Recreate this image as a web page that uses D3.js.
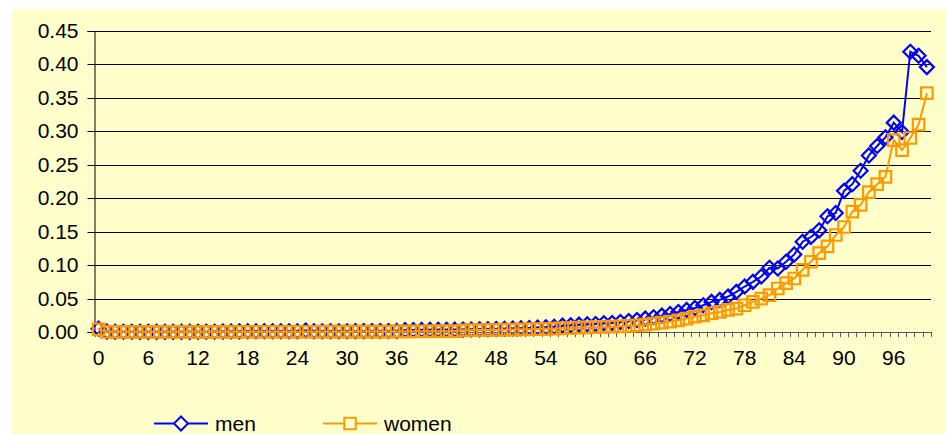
<!DOCTYPE html>
<html>
<head>
<meta charset="utf-8">
<script src="https://cdn.jsdelivr.net/npm/d3@7"></script>
<style>
  html, body { margin: 0; padding: 0; background: #ffffff; }
  svg { display: block; }
  text { font-family: "Liberation Sans", Arial, sans-serif; fill: #000; }
</style>
</head>
<body>
<svg id="chart" width="946" height="434"></svg>
<script>
// Ages 0..100
const ages = d3.range(0, 101);

// Probability of death within the year, by age
const men = [
  0.0050, 0.0006, 0.0004, 0.0003, 0.0003, 0.0002, 0.0002, 0.0002, 0.0002, 0.0002,
  0.0002, 0.0002, 0.0003, 0.0003, 0.0004, 0.0006, 0.0008, 0.0010, 0.0011, 0.0011,
  0.0011, 0.0012, 0.0012, 0.0012, 0.0012, 0.0022, 0.0012, 0.0012, 0.0012, 0.0012,
  0.0012, 0.0013, 0.0013, 0.0014, 0.0014, 0.0015, 0.0016, 0.0028, 0.0030, 0.0031,
  0.0032, 0.0033, 0.0034, 0.0035, 0.0036, 0.0038, 0.0040, 0.0042, 0.0045, 0.0048,
  0.0052, 0.0056, 0.0060, 0.0065, 0.0070, 0.0078, 0.0095, 0.0100, 0.0110, 0.0115,
  0.0120, 0.0130, 0.0135, 0.0150, 0.0165, 0.0180, 0.0200, 0.0220, 0.0245, 0.0270,
  0.0300, 0.0330, 0.0360, 0.0400, 0.0450, 0.0480, 0.0530, 0.0600, 0.0680, 0.0750,
  0.0830, 0.0960, 0.0950, 0.1050, 0.1160, 0.1350, 0.1420, 0.1520, 0.1730, 0.1780,
  0.2110, 0.2210, 0.2410, 0.2640, 0.2780, 0.2910, 0.3130, 0.2990, 0.4190, 0.4130,
  0.3960
];

const women = [
  0.0040, 0.0003, 0.0002, 0.0002, 0.0002, 0.0002, 0.0002, 0.0002, 0.0002, 0.0002,
  0.0002, 0.0002, 0.0002, 0.0002, 0.0002, 0.0003, 0.0003, 0.0004, 0.0004, 0.0004,
  0.0004, 0.0004, 0.0004, 0.0004, 0.0004, 0.0004, 0.0004, 0.0005, 0.0005, 0.0005,
  0.0005, 0.0006, 0.0006, 0.0006, 0.0007, 0.0007, 0.0008, 0.0009, 0.0010, 0.0011,
  0.0012, 0.0013, 0.0013, 0.0014, 0.0025, 0.0027, 0.0029, 0.0031, 0.0033, 0.0035,
  0.0037, 0.0040, 0.0042, 0.0045, 0.0048, 0.0050, 0.0055, 0.0060, 0.0064, 0.0068,
  0.0072, 0.0076, 0.0080, 0.0085, 0.0092, 0.0100, 0.0110, 0.0125, 0.0140, 0.0155,
  0.0175, 0.0200, 0.0230, 0.0250, 0.0280, 0.0300, 0.0330, 0.0350, 0.0400, 0.0450,
  0.0500, 0.0550, 0.0650, 0.0730, 0.0800, 0.0930, 0.1050, 0.1180, 0.1280, 0.1450,
  0.1570, 0.1800, 0.1900, 0.2090, 0.2210, 0.2320, 0.2870, 0.2720, 0.2900, 0.3100,
  0.3570
];

const yTicks = [0, 0.05, 0.10, 0.15, 0.20, 0.25, 0.30, 0.35, 0.40, 0.45];
const xLabels = d3.range(0, 97, 6);

const seriesNames = ["men", "women"];
const seriesColors = ["#0000ff", "#ff9900"];

const FONT_SIZE = 21;

const svg = d3.select("#chart");

// chart area background
svg.append("rect")
  .attr("x", 12).attr("y", 9)
  .attr("width", 934).attr("height", 425)
  .attr("fill", "#ffffcc");

const plot = { left: 94.5, right: 931, top: 31, bottom: 332 };

const x = d3.scaleBand().domain(ages).range([plot.left, plot.right]).padding(0);
const cx = a => x(a) + x.bandwidth() / 2;
const y = d3.scaleLinear().domain([0, 0.45]).range([plot.bottom, plot.top]);

// horizontal gridlines
svg.append("g")
  .selectAll("line")
  .data(yTicks.filter(v => v > 0))
  .join("line")
  .attr("x1", plot.left).attr("x2", plot.right)
  .attr("y1", d => Math.round(y(d)) + 0.5).attr("y2", d => Math.round(y(d)) + 0.5)
  .attr("stroke", "#000").attr("stroke-width", 1);

// y axis
const yAxis = svg.append("g")
  .attr("transform", `translate(${plot.left},0)`)
  .call(d3.axisLeft(y).tickValues(yTicks).tickFormat(d3.format(".2f")).tickSize(7).tickPadding(9));
yAxis.select(".domain").attr("stroke", "#000");
yAxis.selectAll(".tick line").attr("stroke", "#000");
yAxis.selectAll(".tick").attr("transform", d => `translate(0,${Math.round(y(d)) + 0.5})`);
yAxis.selectAll("text")
  .attr("font-family", "Liberation Sans, Arial, sans-serif")
  .attr("font-size", FONT_SIZE)
  .attr("fill", "#000");

// x axis: tick marks on category boundaries, labels every 6 years
const xg = svg.append("g");
const bounds = ages.map(a => x(a)).concat([x(100) + x.bandwidth()]);
xg.append("line")
  .attr("x1", plot.left).attr("x2", plot.right)
  .attr("y1", plot.bottom + 0.5).attr("y2", plot.bottom + 0.5)
  .attr("stroke", "#555");
xg.selectAll("line.tk")
  .data(bounds)
  .join("line")
  .attr("class", "tk")
  .attr("x1", d => Math.round(d) + 0.5).attr("x2", d => Math.round(d) + 0.5)
  .attr("y1", plot.bottom).attr("y2", plot.bottom + 5)
  .attr("stroke", "#555");
xg.selectAll("text")
  .data(xLabels)
  .join("text")
  .attr("x", d => cx(d))
  .attr("y", 365)
  .attr("text-anchor", "middle")
  .attr("font-size", FONT_SIZE)
  .text(d => d);

// series
const line = d3.line().x((d, i) => cx(ages[i])).y(d => y(d));
const diamond = r => `M0,${-r}L${r},0L0,${r}L${-r},0Z`;
const square = s => `M${-s / 2},${-s / 2}h${s}v${s}h${-s}Z`;
const markers = [diamond(7), square(11.5)];

[men, women].forEach((vals, k) => {
  const g = svg.append("g");
  g.append("path")
    .datum(vals)
    .attr("d", line)
    .attr("fill", "none")
    .attr("stroke", seriesColors[k])
    .attr("stroke-width", 2);
  g.selectAll("path.m")
    .data(vals)
    .join("path")
    .attr("class", "m")
    .attr("transform", (d, i) => `translate(${cx(ages[i])},${y(d)})`)
    .attr("d", markers[k])
    .attr("fill", "none")
    .attr("stroke", seriesColors[k])
    .attr("stroke-width", 2.2);
});

// legend
const legend = svg.append("g");
const legendX = [154, 323];
seriesNames.forEach((name, k) => {
  const lg = legend.append("g").attr("transform", `translate(${legendX[k]},423.5)`);
  lg.append("line").attr("x1", 0).attr("x2", 54).attr("y1", 0).attr("y2", 0)
    .attr("stroke", seriesColors[k]).attr("stroke-width", 2);
  lg.append("path").attr("transform", "translate(27,0)").attr("d", markers[k])
    .attr("fill", "#ffffcc").attr("stroke", seriesColors[k]).attr("stroke-width", 2);
  lg.append("text").attr("x", 61).attr("y", 7.5).attr("font-size", FONT_SIZE).text(name);
});
</script>
</body>
</html>
